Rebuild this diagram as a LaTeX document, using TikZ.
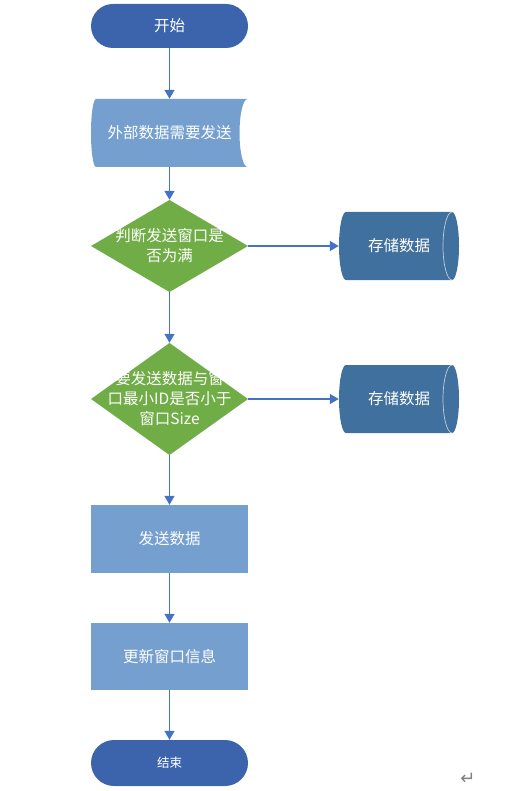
\documentclass[tikz,border=0pt]{standalone}
\usepackage{fontspec}
\setmainfont{Noto Sans CJK SC}
\newfontfamily\retfont{DejaVu Sans}
\usetikzlibrary{arrows.meta}

\definecolor{termblue}{RGB}{60,100,173}
\definecolor{procblue}{RGB}{116,159,206}
\definecolor{decgreen}{RGB}{112,173,71}
\definecolor{storeblue}{RGB}{64,112,157}
\definecolor{flowblue}{RGB}{68,114,196}

\tikzset{
  box/.style={minimum width=157pt, minimum height=68pt, inner sep=0pt,
    text=white, align=center, font=\fontsize{15.5}{20}\selectfont},
  term/.style={box, minimum height=44pt, fill=termblue, rounded corners=22pt},
  proc/.style={box, fill=procblue},
  datanode/.style={box, path picture={
    \fill[procblue] ([xshift=5pt]path picture bounding box.north west)
      arc[start angle=90, end angle=270, x radius=5pt, y radius=34pt]
      -- ([xshift=-0.5pt]path picture bounding box.south east)
      arc[start angle=270, end angle=90, x radius=8pt, y radius=34pt]
      -- cycle;}},
  store/.style={box, minimum width=120pt, path picture={
    \fill[storeblue] ([xshift=7pt]path picture bounding box.north west)
      arc[start angle=90, end angle=270, x radius=7pt, y radius=34pt]
      -- ([xshift=-7pt]path picture bounding box.south east)
      arc[start angle=-90, end angle=90, x radius=7pt, y radius=34pt]
      -- cycle;
    \draw[white!65!storeblue, line width=0.7pt]
      ([xshift=-7pt]path picture bounding box.north east)
      arc[start angle=90, end angle=270, x radius=9pt, y radius=34pt];}},
  decide/.style={box, path picture={
    \fill[decgreen] (path picture bounding box.north)
      -- (path picture bounding box.east)
      -- (path picture bounding box.south)
      -- (path picture bounding box.west) -- cycle;}},
  flow/.style={draw=flowblue, line width=1.5pt,
    -{Triangle[length=9pt,width=10pt]}, fill=flowblue}
}

\begin{document}
\begin{tikzpicture}[x=1pt, y=-1pt]

    % Page size of the reference
    \useasboundingbox (0,0) rectangle (513,791);

    % Main column
    \node[term] (start) at (169.5,26) {开始};
    \node[datanode] (ext) at (169.5,133) {外部数据需要发送};
    \node[decide, minimum height=92pt] (full) at (169.5,246) {判断发送窗口是\\否为满};
    \node[decide, minimum height=112pt] (check) at (169.5,399)
        {要发送数据与窗\\口最小ID是否小于\\窗口Size};
    \node[proc] (send) at (169.5,539) {发送数据};
    \node[proc, minimum height=67pt] (update) at (169.5,656.5) {更新窗口信息};
    \node[term, minimum height=46pt, rounded corners=23pt,
        font=\fontsize{12.5}{15}\selectfont] (stop) at (169.5,763) {结束};

    % Side branches
    \node[store] (save1) at (399,246) {存储数据};
    \node[store] (save2) at (399,399) {存储数据};

    % Return mark
    \node[text=gray, font=\retfont\fontsize{18}{20}\selectfont] (ret) at (468,779) {↵};

    % Connectors
    \draw[flow] (start.south) -- (ext.north);
    \draw[flow] (ext.south) -- (full.north);
    \draw[flow] (full.east) -- (save1.west);
    \draw[flow] (full.south) -- (check.north);
    \draw[flow] (check.east) -- (save2.west);
    \draw[flow] (check.south) -- (send.north);
    \draw[flow] (send.south) -- (update.north);
    \draw[flow] (update.south) -- (stop.north);

\end{tikzpicture}
\end{document}
